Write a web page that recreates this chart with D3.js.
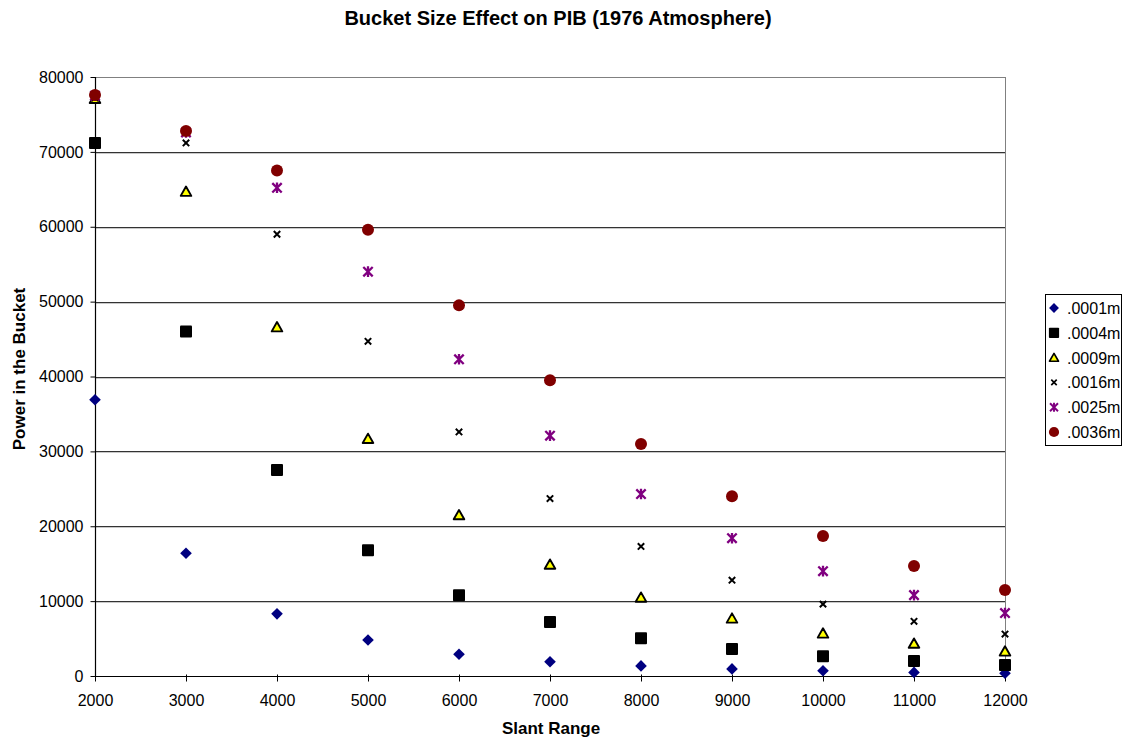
<!DOCTYPE html>
<html>
<head>
<meta charset="utf-8">
<script src="https://cdn.jsdelivr.net/npm/d3@7"></script>
<style>
  html, body { margin: 0; padding: 0; background: #fff; }
  svg { display: block; font-family: "Liberation Sans", Arial, sans-serif; }
</style>
</head>
<body>
<svg id="chart" width="1124" height="740"></svg>
<script>
// Slant range (x) and power in the bucket for each bucket size
const slantRange = [2000, 3000, 4000, 5000, 6000, 7000, 8000, 9000, 10000, 11000, 12000];
const bucket0001 = [36900, 16400, 8300, 4800, 2900, 1900, 1350, 950, 700, 480, 370];
const bucket0004 = [71200, 46000, 27500, 16800, 10800, 7200, 5050, 3600, 2650, 2000, 1470];
const bucket0009 = [77100, 64700, 46600, 31700, 21500, 14900, 10500, 7700, 5700, 4350, 3300];
const bucket0016 = [77200, 71200, 59000, 44700, 32600, 23700, 17300, 12800, 9600, 7300, 5600];
const bucket0025 = [77500, 72600, 65200, 54000, 42300, 32100, 24300, 18400, 14000, 10800, 8400];
const bucket0036 = [77600, 72800, 67500, 59600, 49500, 39500, 31000, 24000, 18700, 14700, 11500];
const seriesNames = [".0001m", ".0004m", ".0009m", ".0016m", ".0025m", ".0036m"];
const xTicks = [2000, 3000, 4000, 5000, 6000, 7000, 8000, 9000, 10000, 11000, 12000];
const yTicks = [0, 10000, 20000, 30000, 40000, 50000, 60000, 70000, 80000];

const seriesValues = [bucket0001, bucket0004, bucket0009, bucket0016, bucket0025, bucket0036];
const markerStyles = [
  { shape: "diamond", fill: "#000080", stroke: "#000080" },
  { shape: "square", fill: "#000000", stroke: "#000000" },
  { shape: "triangle", fill: "#ffff00", stroke: "#000000" },
  { shape: "x", fill: "none", stroke: "#000000" },
  { shape: "star", fill: "none", stroke: "#800080" },
  { shape: "circle", fill: "#800000", stroke: "#800000" }
];

const svg = d3.select("#chart");
const plot = { left: 95, right: 1005, top: 77, bottom: 676 };

const x = d3.scaleLinear().domain([2000, 12000]).range([plot.left, plot.right]);
const y = d3.scaleLinear().domain([0, 80000]).range([plot.bottom, plot.top]);

// Horizontal gridlines
svg.append("g").selectAll("line").data(yTicks.filter(d => d > 0)).join("line")
  .attr("x1", plot.left).attr("x2", plot.right)
  .attr("y1", d => Math.round(y(d)) + 0.5).attr("y2", d => Math.round(y(d)) + 0.5)
  .attr("stroke", d => d === 80000 ? "#808080" : "#333")
  .attr("stroke-width", 1);
svg.append("g").selectAll("line").data(yTicks.filter(d => d > 0 && d < 80000)).join("line")
  .attr("x1", plot.left).attr("x2", plot.right)
  .attr("y1", d => Math.round(y(d)) + 1.5).attr("y2", d => Math.round(y(d)) + 1.5)
  .attr("stroke", "#c8c8c8")
  .attr("stroke-width", 1);

// Right border of plot area
svg.append("line")
  .attr("x1", plot.right + 0.5).attr("x2", plot.right + 0.5)
  .attr("y1", plot.top).attr("y2", plot.bottom)
  .attr("stroke", "#808080");

// Axes
const yAxis = d3.axisLeft(y).tickValues(yTicks).tickSize(5).tickPadding(7).tickFormat(d3.format("d"));
const xAxis = d3.axisBottom(x).tickValues(xTicks).tickSize(5).tickPadding(13).tickFormat(d3.format("d"));

const gy = svg.append("g").attr("transform", `translate(${plot.left + 0.5},0)`).call(yAxis);
const gx = svg.append("g").attr("transform", `translate(0,${plot.bottom + 0.5})`).call(xAxis);
[gx, gy].forEach(g => {
  g.select(".domain").attr("stroke", "#000").attr("stroke-width", 1.2);
  g.selectAll(".tick line").attr("stroke", "#000");
  g.selectAll(".tick text").attr("font-size", 16).attr("fill", "#000")
    .attr("font-family", "'Liberation Sans', Arial, sans-serif");
});
gy.select(".domain").attr("d", `M0,${plot.top}V${plot.bottom}`);
gx.select(".domain").attr("d", `M${plot.left},0H${plot.right}`);
gx.selectAll(".tick line").attr("y1", -2).attr("y2", 5);

// Marker drawing
function drawMarker(g, style) {
  switch (style.shape) {
    case "diamond":
      g.append("path").attr("d", "M0,-5.8L5.8,0L0,5.8L-5.8,0Z")
        .attr("fill", style.fill);
      break;
    case "square":
      g.append("rect").attr("x", -6).attr("y", -6).attr("width", 12).attr("height", 12)
        .attr("rx", 1).attr("fill", style.fill);
      break;
    case "triangle":
      g.append("path").attr("d", "M0,-5L5.3,4.3L-5.3,4.3Z")
        .attr("fill", style.fill).attr("stroke", style.stroke).attr("stroke-width", 1.9)
        .attr("stroke-linejoin", "round");
      break;
    case "x":
      g.append("path").attr("d", "M-3.2,-3.2L3.2,3.2M-3.2,3.2L3.2,-3.2")
        .attr("stroke", style.stroke).attr("stroke-width", 2);
      break;
    case "star":
      g.append("path").attr("d", "M-4.7,-4.7L4.7,4.7M-4.7,4.7L4.7,-4.7M0,-5.3V5.3")
        .attr("stroke", style.stroke).attr("stroke-width", 2.3);
      break;
    case "circle":
      g.append("circle").attr("r", 6).attr("fill", style.fill);
      break;
  }
}

// Data points
seriesValues.forEach((vals, si) => {
  const g = svg.append("g").attr("class", "series");
  vals.forEach((v, i) => {
    const m = g.append("g").attr("transform", `translate(${x(slantRange[i])},${y(v)})`);
    drawMarker(m, markerStyles[si]);
  });
});

// Title and axis labels
svg.append("text").attr("x", 558).attr("y", 25).attr("text-anchor", "middle")
  .attr("font-size", 20).attr("font-weight", "bold")
  .text("Bucket Size Effect on PIB (1976 Atmosphere)");
svg.append("text").attr("x", 551).attr("y", 734).attr("text-anchor", "middle")
  .attr("font-size", 17).attr("font-weight", "bold").text("Slant Range");
svg.append("text").attr("transform", "translate(25,369) rotate(-90)").attr("text-anchor", "middle")
  .attr("font-size", 17).attr("font-weight", "bold").text("Power in the Bucket");

// Legend
const legend = svg.append("g");
legend.append("rect").attr("x", 1045.5).attr("y", 294.5).attr("width", 76).attr("height", 151)
  .attr("fill", "#fff").attr("stroke", "#000");
seriesNames.forEach((name, i) => {
  const cy = 308 + i * 24.8;
  const m = legend.append("g").attr("transform", `translate(1054,${cy}) scale(0.85)`);
  drawMarker(m, markerStyles[i]);
  legend.append("text").attr("x", 1067).attr("y", cy + 6).attr("font-size", 16).text(name);
});
</script>
</body>
</html>
